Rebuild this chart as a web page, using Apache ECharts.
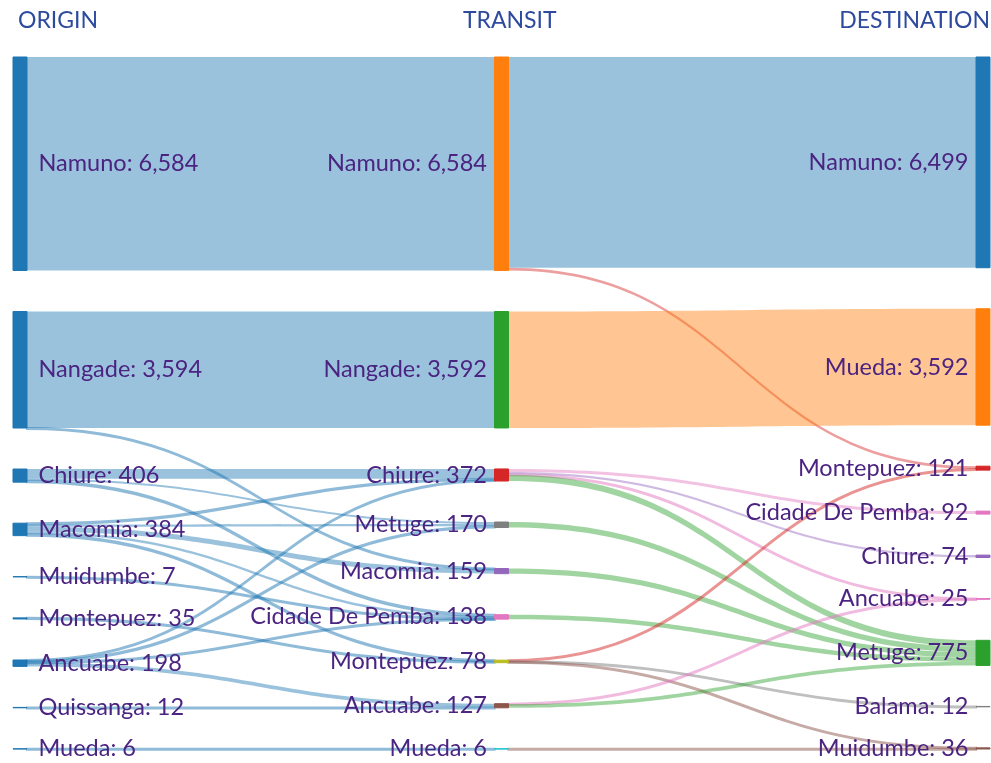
<!DOCTYPE html>
<html>
<head>
<meta charset="utf-8">
<title>Origin - Transit - Destination</title>
<script src="https://cdn.jsdelivr.net/npm/echarts@6/dist/echarts.min.js"></script>
<style>
  html, body { margin: 0; padding: 0; background: #fff; }
  #chart { width: 991px; height: 763px; }
</style>
</head>
<body>
<div id="chart"></div>
<script>
// columns
var originNames = ['Namuno', 'Nangade', 'Chiure', 'Macomia', 'Muidumbe', 'Montepuez', 'Ancuabe', 'Quissanga', 'Mueda'];
var transitNames = ['Namuno', 'Nangade', 'Chiure', 'Metuge', 'Macomia', 'Cidade De Pemba', 'Montepuez', 'Ancuabe', 'Mueda'];
var transitColors = ['#ff7f0e', '#2ca02c', '#d62728', '#7f7f7f', '#9467bd', '#e377c2', '#bcbd22', '#8c564b', '#17becf'];
var destNames = ['Namuno', 'Mueda', 'Montepuez', 'Cidade De Pemba', 'Chiure', 'Ancuabe', 'Metuge', 'Balama', 'Muidumbe'];
var destColors = ['#1f77b4', '#ff7f0e', '#d62728', '#e377c2', '#9467bd', '#e377c2', '#2ca02c', '#7f7f7f', '#8c564b'];
var originColor = '#1f77b4';

// flows: [from, to, value]
var originToTransit = [
  ['Namuno', 'Namuno', 6584],
  ['Nangade', 'Nangade', 3592],
  ['Nangade', 'Macomia', 2],
  ['Chiure', 'Chiure', 300],
  ['Chiure', 'Metuge', 60],
  ['Chiure', 'Cidade De Pemba', 46],
  ['Macomia', 'Chiure', 40],
  ['Macomia', 'Metuge', 70],
  ['Macomia', 'Macomia', 157],
  ['Macomia', 'Cidade De Pemba', 74],
  ['Macomia', 'Montepuez', 43],
  ['Muidumbe', 'Cidade De Pemba', 7],
  ['Montepuez', 'Montepuez', 35],
  ['Ancuabe', 'Chiure', 32],
  ['Ancuabe', 'Metuge', 40],
  ['Ancuabe', 'Cidade De Pemba', 11],
  ['Ancuabe', 'Ancuabe', 115],
  ['Quissanga', 'Ancuabe', 12],
  ['Mueda', 'Mueda', 6]
];
var transitToDest = [
  ['Namuno', 'Namuno', 6499],
  ['Namuno', 'Montepuez', 85],
  ['Nangade', 'Mueda', 3592],
  ['Chiure', 'Cidade De Pemba', 92],
  ['Chiure', 'Chiure', 74],
  ['Chiure', 'Ancuabe', 12],
  ['Chiure', 'Metuge', 194],
  ['Metuge', 'Metuge', 170],
  ['Macomia', 'Metuge', 159],
  ['Cidade De Pemba', 'Metuge', 138],
  ['Montepuez', 'Montepuez', 36],
  ['Montepuez', 'Balama', 12],
  ['Montepuez', 'Muidumbe', 30],
  ['Ancuabe', 'Ancuabe', 13],
  ['Ancuabe', 'Metuge', 114],
  ['Mueda', 'Muidumbe', 6]
];

var labelColor = '#4b2380';
var headColor = '#2d4a9e';
var font = 'Lato';

function nodeItem(prefix, name, color, pos, dist) {
  return {
    name: prefix + '|' + name,
    itemStyle: { color: color, borderColor: color, borderWidth: 1 },
    label: { position: pos, distance: dist }
  };
}

function linkStyle(color, value) {
  // very thin flows are drawn as an outline so they stay visible
  if (value < 60) {
    return { color: 'rgba(0,0,0,0)', borderColor: color, borderWidth: 2, opacity: 0.5 };
  }
  return { color: color, opacity: 0.45 };
}

var nodes = [];
originNames.forEach(function(n) { nodes.push(nodeItem('o', n, originColor, 'right', 11)); });
transitNames.forEach(function(n, i) { nodes.push(nodeItem('t', n, transitColors[i], 'left', 7)); });
destNames.forEach(function(n, i) { nodes.push(nodeItem('d', n, destColors[i], 'left', 7)); });

var links = [];
originToTransit.forEach(function(l) {
  links.push({ source: 'o|' + l[0], target: 't|' + l[1], value: l[2],
    lineStyle: linkStyle(originColor, l[2]) });
});
transitToDest.forEach(function(l) {
  links.push({ source: 't|' + l[0], target: 'd|' + l[1], value: l[2],
    lineStyle: linkStyle(destColors[destNames.indexOf(l[1])], l[2]) });
});

var chart = echarts.init(document.getElementById('chart'), null, { renderer: 'canvas' });
chart.setOption({
  animation: false,
  graphic: [
    { type: 'text', left: 18, top: 9, style: { text: 'ORIGIN', fill: headColor, font: '23px ' + font } },
    { type: 'text', left: 463, top: 9, style: { text: 'TRANSIT', fill: headColor, font: '23px ' + font } },
    { type: 'text', right: 1, top: 9, style: { text: 'DESTINATION', fill: headColor, font: '23px ' + font } }
  ],
  series: [{
    type: 'sankey',
    left: 13, right: 1, top: 57, bottom: 14,
    nodeWidth: 14,
    nodeGap: 41,
    layoutIterations: 0,
    draggable: false,
    emphasis: { disabled: true },
    label: {
      color: labelColor, fontFamily: font, fontSize: 23.5,
      formatter: function(p) {
        return p.name.split('|')[1] + ': ' + p.value.toLocaleString('en-US');
      }
    },
    lineStyle: { curveness: 0.5 },
    data: nodes,
    links: links
  }]
});
window.addEventListener('resize', function() { chart.resize(); });
</script>
</body>
</html>
